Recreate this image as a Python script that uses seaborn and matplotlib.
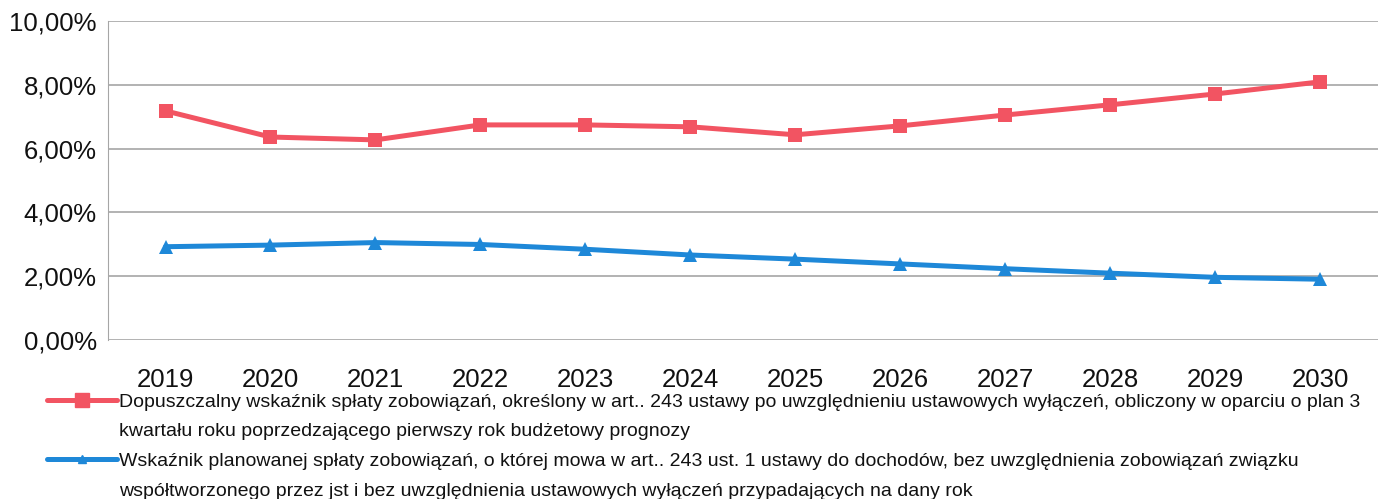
import numpy as np
import pandas as pd
import matplotlib
matplotlib.use('Agg')
import matplotlib.pyplot as plt
import seaborn as sns
from matplotlib.lines import Line2D
from matplotlib.ticker import FuncFormatter

# data (percent)
years = [2019, 2020, 2021, 2022, 2023, 2024, 2025, 2026, 2027, 2028, 2029, 2030]
allowed = [7.18, 6.36, 6.27, 6.74, 6.74, 6.68, 6.43, 6.71, 7.05, 7.37, 7.71, 8.09]
planned = [2.92, 2.97, 3.05, 2.99, 2.84, 2.66, 2.53, 2.38, 2.23, 2.09, 1.96, 1.90]

# legend labels, one string per printed line
label_allowed = ["Dopuszczalny wskaźnik spłaty zobowiązań, określony w art.. 243 ustawy po uwzględnieniu "
                 "ustawowych wyłączeń, obliczony w oparciu o plan 3",
                 "kwartału roku poprzedzającego pierwszy rok budżetowy prognozy"]
label_planned = ["Wskaźnik planowanej spłaty zobowiązań, o której mowa w art.. 243 ust. 1 ustawy do dochodów, "
                 "bez uwzględnienia zobowiązań związku",
                 "współtworzonego przez jst i bez uwzględnienia ustawowych wyłączeń przypadających na dany rok"]

red = '#F25462'
blue = '#1E88D8'

df = pd.DataFrame({
    'pos': list(range(len(years))) * 2,
    'value': allowed + planned,
    'series': ['allowed'] * len(years) + ['planned'] * len(years),
})

sns.set_style('white')
plt.rcParams['font.family'] = ['Liberation Sans', 'DejaVu Sans']

fig = plt.figure(figsize=(13.82, 4.99), dpi=100)
ax = fig.add_axes([0.078, 0.319, 0.919, 0.639])

sns.lineplot(data=df, x='pos', y='value', hue='series', style='series',
             palette={'allowed': red, 'planned': blue},
             markers={'allowed': 's', 'planned': '^'}, dashes=False,
             linewidth=3.6, markersize=10.5, markeredgewidth=0, legend=False, ax=ax)

ax.set_xlim(-0.55, len(years) - 0.45)
ax.set_ylim(0, 10)
ax.set_yticks(np.arange(0, 10.01, 2))
ax.yaxis.set_major_formatter(FuncFormatter(lambda v, p: f'{v:.2f}%'.replace('.', ',')))
ax.set_xticks(range(len(years)))
ax.set_xticklabels([str(y) for y in years])
ax.set_xlabel('')
ax.set_ylabel('')
ax.grid(axis='y', color='#A6A6A6', linewidth=1.2)
for s in ['top', 'right', 'bottom']:
    ax.spines[s].set_visible(False)
ax.spines['left'].set_color('#A6A6A6')
ax.tick_params(axis='y', labelsize=18.5, length=5, color='#A6A6A6', pad=3, labelcolor='#111111')
ax.tick_params(axis='x', labelsize=18.5, length=0, pad=20, labelcolor='#111111')

# legend: marker handle sits on the first line of each entry
blank = Line2D([], [], linestyle='none')
handles = [Line2D([], [], color=red, marker='s', linewidth=3.6, markersize=10),
           blank,
           Line2D([], [], color=blue, marker='^', linewidth=3.6, markersize=6),
           blank]
leg = fig.legend(handles, label_allowed + label_planned, loc='upper left',
                 bbox_to_anchor=(0.034, 0.212), frameon=False, fontsize=14,
                 handlelength=3.6, handletextpad=0.1, labelspacing=0.62,
                 borderaxespad=0, borderpad=0, labelcolor='#111111')

fig.savefig('out.png', dpi=100)
